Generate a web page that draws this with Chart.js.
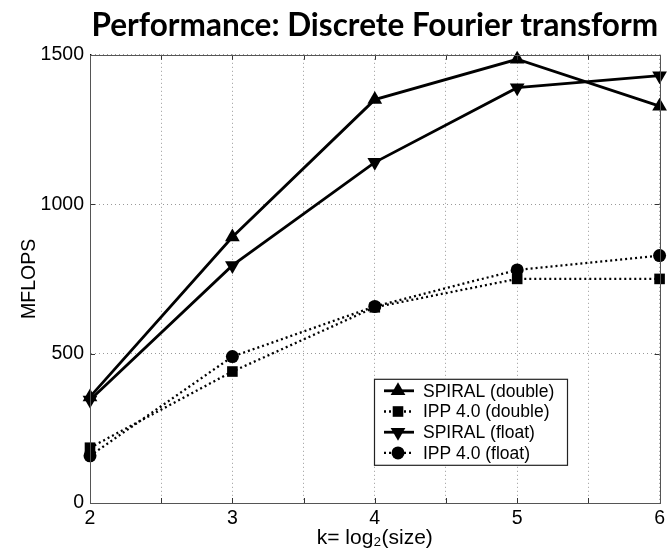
<!DOCTYPE html>
<html>
<head>
<meta charset="utf-8">
<title>Performance: Discrete Fourier transform</title>
<script src="https://cdn.jsdelivr.net/npm/chart.js@4.4.1/dist/chart.umd.min.js"></script>
<style>
  html, body { margin: 0; padding: 0; background: #fff; }
  #wrap { width: 669px; height: 556px; }
</style>
</head>
<body>
<div id="wrap"><canvas id="dftChart" width="669" height="556"></canvas></div>
<script>
// k = log2(size)
const kValues = [2, 3, 4, 5, 6];
const spiralDouble = [355, 890, 1350, 1485, 1328];
const ippDouble = [185, 440, 655, 750, 750];
const spiralFloat = [345, 795, 1140, 1390, 1430];
const ippFloat = [158, 490, 658, 780, 828];
const seriesNames = ["SPIRAL (double)", "IPP 4.0 (double)", "SPIRAL (float)", "IPP 4.0 (float)"];
const yTicks = [0, 500, 1000, 1500];

const tickFont = { family: "'Liberation Sans', Arial, sans-serif", size: 19.5 };

function toPoints(values) {
  return kValues.map((k, i) => ({ x: k, y: values[i] }));
}

function makeDataset(label, values, style, rotation, dashed, radius) {
  return {
    label: label,
    data: toPoints(values),
    borderColor: "#000",
    backgroundColor: "#000",
    borderWidth: dashed ? 2.3 : 2.8,
    borderDash: dashed ? [2, 3] : [],
    pointStyle: style,
    pointRotation: rotation,
    pointRadius: radius,
    pointHoverRadius: radius,
    pointBorderWidth: 0,
    fill: false,
    tension: 0,
    clip: false,
  };
}

// box round the plot, with inward tick marks like the original figure
const framePlugin = {
  id: "frame",
  afterDraw(chart) {
    const ctx = chart.ctx;
    const a = chart.chartArea;
    const xs = chart.scales.x;
    const ys = chart.scales.y;
    ctx.save();
    ctx.strokeStyle = "#333";
    ctx.lineWidth = 1;
    ctx.setLineDash([]);
    ctx.beginPath();
    xs.ticks.forEach((t) => {
      const px = Math.round(xs.getPixelForValue(t.value)) + 0.5;
      ctx.moveTo(px, a.bottom); ctx.lineTo(px, a.bottom - 5);
      ctx.moveTo(px, a.top); ctx.lineTo(px, a.top + 5);
    });
    ys.ticks.forEach((t) => {
      const py = Math.round(ys.getPixelForValue(t.value)) + 0.5;
      ctx.moveTo(a.left, py); ctx.lineTo(a.left + 5, py);
      ctx.moveTo(a.right, py); ctx.lineTo(a.right - 5, py);
    });
    ctx.stroke();
    ctx.strokeStyle = "#555";
    ctx.strokeRect(Math.round(a.left) + 0.5, Math.round(a.top) + 0.5,
      Math.round(a.right - a.left), Math.round(a.bottom - a.top));
    ctx.restore();
  },
};

function drawMarker(ctx, ds, x, y) {
  const r = ds.pointRadius;
  ctx.beginPath();
  if (ds.pointStyle === "triangle") {
    let rad = (ds.pointRotation || 0) * Math.PI / 180;
    for (let i = 0; i < 3; i++) {
      const px = x + Math.sin(rad) * r;
      const py = y - Math.cos(rad) * r;
      if (i === 0) ctx.moveTo(px, py); else ctx.lineTo(px, py);
      rad += 2 * Math.PI / 3;
    }
    ctx.closePath();
  } else if (ds.pointStyle === "rect") {
    const s = Math.SQRT1_2 * r;
    ctx.rect(x - s, y - s, 2 * s, 2 * s);
  } else {
    ctx.arc(x, y, r, 0, Math.PI * 2);
  }
  ctx.fill();
}

// legend drawn inside the plot area, lower right
const insideLegend = {
  id: "insideLegend",
  afterDraw(chart) {
    const ctx = chart.ctx;
    const a = chart.chartArea;
    const left = a.left + 284, top = a.top + 324;
    const w = 193, h = 86;
    ctx.save();
    ctx.fillStyle = "#fff";
    ctx.fillRect(left, top, w, h);
    ctx.strokeStyle = "#222";
    ctx.lineWidth = 1.2;
    ctx.setLineDash([]);
    ctx.strokeRect(left + 0.5, top + 0.5, w, h);
    ctx.font = "17.5px 'Liberation Sans', Arial, sans-serif";
    ctx.textBaseline = "middle";
    chart.data.datasets.forEach((ds, i) => {
      const y = top + 12 + i * 20.7;
      ctx.strokeStyle = "#000";
      ctx.fillStyle = "#000";
      ctx.lineWidth = ds.borderWidth;
      ctx.setLineDash(ds.borderDash);
      ctx.beginPath();
      ctx.moveTo(left + 10, y);
      ctx.lineTo(left + 40, y);
      ctx.stroke();
      ctx.setLineDash([]);
      drawMarker(ctx, ds, left + 24, y);
      ctx.fillText(ds.label, left + 49, y + 1);
    });
    ctx.restore();
  },
};

const ctx = document.getElementById("dftChart").getContext("2d");
const dftChart = new Chart(ctx, {
  type: "line",
  data: {
    datasets: [
      makeDataset(seriesNames[0], spiralDouble, "triangle", 0, false, 8.5),
      makeDataset(seriesNames[1], ippDouble, "rect", 0, true, 7.5),
      makeDataset(seriesNames[2], spiralFloat, "triangle", 180, false, 8.5),
      makeDataset(seriesNames[3], ippFloat, "circle", 0, true, 6.5),
    ],
  },
  options: {
    responsive: false,
    animation: false,
    events: [],
    layout: { padding: { left: 0, right: 9, top: 0, bottom: 0 } },
    plugins: {
      legend: { display: false },
      tooltip: { enabled: false },
      title: {
        display: true,
        text: "Performance: Discrete Fourier transform",
        fullSize: false,
        color: "#000",
        font: { family: "Lato, 'Open Sans', sans-serif", size: 31.5, weight: "bold", lineHeight: 1.2 },
        padding: { top: 7, bottom: 10 },
      },
    },
    scales: {
      x: {
        type: "linear",
        min: 2,
        max: 6,
        afterFit(scale) { scale.height = 53; },
        ticks: {
          stepSize: 0.5,
          autoSkip: false,
          maxRotation: 0,
          color: "#000",
          font: tickFont,
          padding: 4,
          callback: (v) => (Number.isInteger(v) ? String(v) : ""),
        },
        grid: {
          color: "#999",
          lineWidth: 1,
          drawTicks: false,
        },
        border: { display: true, color: "#000", width: 1, dash: [1, 3] },
        title: {
          display: true,
          text: "k= log₂(size)",
          color: "#000",
          font: { family: tickFont.family, size: 21 },
          padding: { top: 0, bottom: 5 },
        },
      },
      y: {
        min: 0,
        max: 1500,
        afterFit(scale) { scale.width = 90; },
        afterBuildTicks(scale) { scale.ticks = yTicks.map((v) => ({ value: v })); },
        ticks: {
          color: "#000",
          font: tickFont,
          padding: 6,
          callback: (v) => String(v),
        },
        grid: {
          color: "#999",
          lineWidth: 1,
          drawTicks: false,
        },
        border: { display: true, color: "#000", width: 1, dash: [1, 3] },
        title: {
          display: true,
          text: "MFLOPS",
          color: "#000",
          font: tickFont,
          padding: { top: 18, bottom: 0 },
        },
      },
    },
  },
  plugins: [framePlugin, insideLegend],
});
</script>
</body>
</html>
